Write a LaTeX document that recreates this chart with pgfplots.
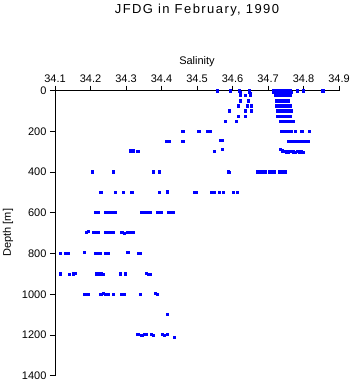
\documentclass[border=0pt]{standalone}
\usepackage{pgfplots}
\pgfplotsset{compat=1.18}
\usepackage{fontspec}
\setmainfont{Liberation Sans}
\begin{document}
\begin{tikzpicture}
\path[use as bounding box] (-55pt,-8.3pt) rectangle (298pt,375.7pt);
\begin{axis}[
  at={(142pt,142.5pt)}, anchor=center,
  scale only axis, width=284pt, height=285pt,
  xmin=34.1, xmax=34.9, ymin=0, ymax=1400,
  y dir=reverse,
  axis x line=top, axis y line=left,
  axis line style={-, line width=0.8pt},
  tick align=outside, major tick length=5pt,
  xtick={34.1,34.2,...,34.9},
  ytick={0,200,...,1400},
  xticklabel style={/pgf/number format/fixed, /pgf/number format/precision=1, /pgf/number format/fixed zerofill},
  yticklabel style={/pgf/number format/1000 sep={}},
  /pgf/number format/assume math mode=true,
  tick label style={font=\fontsize{11}{13}\selectfont},
  tick style={black, line width=0.8pt},
  clip=false,
]
\addplot[only marks, mark=square*, mark size=1.1pt, color=blue, mark options={draw=blue, fill=blue}] coordinates {
(34.558,0) (34.593,0) (34.620,0) (34.646,0) (34.714,0) (34.720,0) (34.726,0) (34.732,0) (34.738,0) (34.744,0) (34.750,0) (34.756,0) (34.762,0) (34.782,0) (34.799,0) (34.854,0)
(34.622,6) (34.648,6) (34.716,6) (34.722,6) (34.728,6) (34.734,6) (34.740,6) (34.746,6) (34.752,6) (34.758,6) (34.764,6)
(34.621,15) (34.649,15)
(34.621,24) (34.635,24) (34.649,24) (34.720,24) (34.726,24) (34.732,24) (34.738,24) (34.744,24) (34.750,24) (34.756,24) (34.762,24)
(34.621,49) (34.644,49) (34.722,49) (34.728,49) (34.734,49) (34.740,49) (34.746,49) (34.752,49) (34.758,49)
(34.615,74) (34.641,74) (34.652,74) (34.722,74) (34.728,74) (34.734,74) (34.740,74) (34.746,74) (34.752,74) (34.758,74) (34.763,74)
(34.590,98) (34.635,98) (34.652,98) (34.725,98) (34.731,98) (34.737,98) (34.743,98) (34.749,98) (34.755,98) (34.761,98) (34.766,98)
(34.615,125) (34.635,125) (34.725,125) (34.731,125) (34.737,125) (34.743,125) (34.749,125) (34.755,125) (34.761,125)
(34.579,150) (34.610,150) (34.734,150) (34.740,150) (34.746,150) (34.752,150) (34.758,150) (34.764,150) (34.770,150)
(34.460,199) (34.505,199) (34.528,199) (34.537,199) (34.737,199) (34.743,199) (34.749,199) (34.755,199) (34.761,199) (34.766,199) (34.776,199) (34.795,199) (34.816,199)
(34.413,247) (34.422,247) (34.460,247) (34.565,245) (34.570,243) (34.756,247) (34.762,247) (34.768,247) (34.774,247) (34.780,247) (34.786,247) (34.792,247) (34.797,247) (34.806,247) (34.812,247)
(34.311,295) (34.321,295) (34.333,297) (34.548,298) (34.570,288) (34.734,288) (34.740,295) (34.746,298) (34.752,300) (34.758,300) (34.764,299) (34.770,300) (34.776,301) (34.782,299) (34.788,300) (34.794,300) (34.800,301)
(34.205,398) (34.263,398) (34.377,398) (34.393,398) (34.587,398) (34.590,400) (34.669,398) (34.675,398) (34.681,398) (34.687,398) (34.692,398) (34.703,398) (34.709,398) (34.713,398) (34.717,398) (34.731,398) (34.737,398) (34.742,398) (34.748,398)
(34.229,498) (34.269,498) (34.292,498) (34.316,498) (34.393,498) (34.415,496) (34.492,498) (34.497,498) (34.541,498) (34.548,498) (34.562,498) (34.573,497) (34.601,498) (34.614,498)
(34.213,597) (34.221,597) (34.243,597) (34.249,595) (34.255,597) (34.263,597) (34.269,597) (34.344,597) (34.350,597) (34.356,597) (34.362,597) (34.368,597) (34.388,597) (34.394,597) (34.400,597) (34.418,597) (34.426,597) (34.432,597)
(34.187,697) (34.193,690) (34.208,697) (34.214,697) (34.221,697) (34.243,697) (34.249,697) (34.256,697) (34.263,697) (34.288,695) (34.296,699) (34.304,697) (34.311,697) (34.316,697) (34.321,695)
(34.114,797) (34.128,797) (34.134,797) (34.137,797) (34.183,795) (34.213,797) (34.220,797) (34.227,797) (34.243,797) (34.249,797) (34.305,792) (34.335,797) (34.339,797)
(34.114,899) (34.140,903) (34.152,899) (34.156,895) (34.217,899) (34.224,899) (34.230,899) (34.236,903) (34.283,899) (34.298,899) (34.358,897) (34.364,901) (34.368,903)
(34.183,998) (34.188,998) (34.193,1001) (34.229,998) (34.236,995) (34.243,998) (34.249,998) (34.263,998) (34.288,998) (34.295,1001) (34.339,998) (34.382,994) (34.388,1001)
(34.415,1097)
(34.333,1197) (34.344,1200) (34.351,1197) (34.358,1197) (34.372,1197) (34.377,1200) (34.401,1197) (34.407,1200) (34.417,1197) (34.436,1212)
};
\end{axis}
\node[anchor=base, font=\fontsize{13}{15}\selectfont\addfontfeature{LetterSpace=11}] at (142pt,362.4pt) {JFDG in February, 1990};
\node[anchor=base, font=\fontsize{11}{13}\selectfont] at (142pt,311.7pt) {Salinity};
\node[rotate=90, anchor=center, font=\fontsize{11}{13}\selectfont] at (-47pt,143pt) {Depth [m]};
\end{tikzpicture}
\end{document}
